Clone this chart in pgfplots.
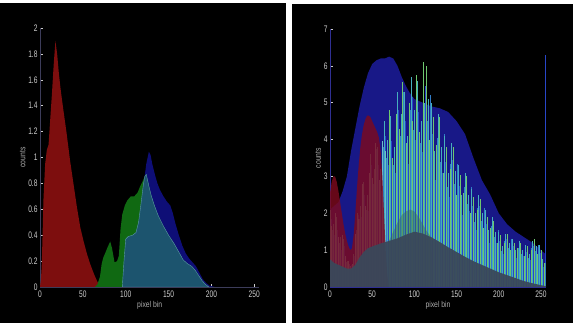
\documentclass[border=0pt]{standalone}
\usepackage{pgfplots}
\pgfplotsset{compat=1.18}
\usepackage{fontspec}
\setmainfont{Liberation Sans}
\definecolor{rd}{RGB}{125,14,14}
\definecolor{gn}{RGB}{16,105,18}
\definecolor{nv}{RGB}{14,14,118}
\definecolor{tl}{RGB}{28,84,110}
\definecolor{tledge}{RGB}{90,150,170}
\definecolor{rd2}{RGB}{125,10,30}
\definecolor{nv2}{RGB}{24,24,135}
\definecolor{cy}{RGB}{70,175,190}
\definecolor{bl}{RGB}{40,70,200}
\definecolor{bl2}{RGB}{50,125,200}
\definecolor{gl}{RGB}{110,200,110}
\definecolor{gb}{RGB}{55,105,90}
\definecolor{sl}{RGB}{58,72,90}
\definecolor{tk}{RGB}{205,205,205}
\definecolor{axl}{RGB}{60,60,90}
\begin{document}
\begin{tikzpicture}
\useasboundingbox (0pt,0pt) rectangle (573pt,323pt);
\fill[white] (0pt,0pt) rectangle (573pt,323pt);
\fill[black] (0pt,0pt) rectangle (286pt,320pt);
\fill[black] (292pt,0pt) rectangle (573pt,319pt);
\pgfplotsset{panel/.style={scale only axis, anchor=south west, xmin=0, xmax=256, ymin=0,
  axis lines*=left, tick align=inside, major tick length=3pt,
  axis line style={draw=axl, line width=0.6pt},
  every tick/.style={draw=tk, line width=0.5pt},
  xtick={0,50,100,150,200,250},
  tick label style={font=\fontsize{9.5}{10}\selectfont, text=tk, xscale=0.7},
  /pgf/number format/assume math mode=true,
  /pgf/number format/fixed, /pgf/number format/precision=1,
  label style={font=\fontsize{8.5}{9}\selectfont, text=tk!85!black, xscale=0.8},
  xlabel={pixel bin}, ylabel={counts},
  xlabel style={yshift=3pt}, ylabel style={yshift=-3pt}}}
% ---------- left panel ----------
\begin{axis}[panel, at={(40pt,36pt)}, width=219.4pt, height=259pt, ymax=2,
  ytick={0,0.2,0.4,0.6,0.8,1,1.2,1.4,1.6,1.8,2}]
\addplot[fill=rd, draw=none] coordinates {
(0,0) (1,0.05) (2,0.16) (3,0.4) (4,0.67) (6,0.95) (8,1.06) (10,1.1) (12,1.3) (14,1.5)
(16,1.72) (18,1.9) (20,1.8) (22,1.65) (24,1.53) (27,1.38) (31,1.19) (35,0.98) (39,0.8)
(43,0.62) (47,0.46) (51,0.35) (55,0.25) (59,0.17) (63,0.1) (67,0.04) (70,0.01) (72,0)} \closedcycle;
\addplot[fill=nv, draw=none] coordinates {
(96,0) (98,0.2) (100,0.37) (103,0.39) (108,0.40) (112,0.42) (115,0.5) (118,0.65) (121,0.80)
(124,0.95) (127,1.045) (129,1.02) (131,0.95) (134,0.87) (137,0.80) (140,0.75) (144,0.70)
(148,0.66) (152,0.63) (155,0.57) (158,0.49) (162,0.40) (166,0.32) (170,0.26) (174,0.22)
(178,0.19) (182,0.16) (186,0.11) (190,0.06) (194,0.03) (198,0.01) (204,0)} \closedcycle;
\addplot[fill=gn, draw=none] coordinates {
(64,0) (67,0.02) (70,0.08) (72,0.18) (74,0.23) (76,0.26) (79,0.31) (82,0.35) (84,0.3)
(87,0.19) (90,0.2) (92,0.24) (94,0.45) (96,0.56) (99,0.63) (102,0.67) (106,0.70) (110,0.70)
(114,0.73) (117,0.78) (120,0.82) (122,0.85) (124,0.87) (127,0.78) (130,0.70) (134,0.62)
(138,0.55) (144,0.47) (150,0.40) (156,0.34) (162,0.27) (167,0.21) (172,0.18) (177,0.16)
(181,0.13) (185,0.09) (189,0.05) (193,0.02) (197,0)} \closedcycle;
\addplot[fill=tl, draw=tledge, line width=0.4pt] coordinates {
(96,0) (98,0.2) (100,0.37) (103,0.39) (108,0.40) (112,0.42) (115,0.5) (118,0.65) (120,0.76)
(122,0.85) (124,0.87) (127,0.78) (130,0.70) (134,0.62) (138,0.55) (144,0.47) (150,0.40)
(156,0.34) (162,0.27) (167,0.21) (172,0.18) (177,0.16) (181,0.13) (185,0.09) (189,0.05)
(193,0.02) (197,0)} \closedcycle;
\addplot[draw=nv!80!white, line width=0.8pt] coordinates {(0,0) (256,0)};
\node[anchor=south west, font=\fontsize{9}{10}\selectfont, text=tk, xscale=0.72, inner sep=0pt]
  at (rel axis cs:0,1) [xshift=2pt, yshift=3pt] {x\,10$^{\scriptstyle 5}$};
\end{axis}
% ---------- right panel ----------
\begin{axis}[panel, at={(330pt,36pt)}, width=216pt, height=258pt, ymax=7,
  ytick={0,1,2,3,4,5,6,7}, axis line style={draw=nv2!90!white, line width=0.6pt},
  /pgf/number format/precision=0]
\addplot[fill=nv2, draw=none] coordinates {
(0,2.1) (5,2.2) (10,2.3) (15,2.6) (20,3.0) (25,3.7) (30,4.3) (35,4.9) (40,5.4) (45,5.8)
(50,6.05) (55,6.15) (60,6.2) (65,6.2) (70,6.25) (75,6.2) (80,6.0) (85,5.7) (90,5.45)
(95,5.25) (100,5.1) (110,5.0) (120,4.9) (130,4.85) (140,4.75) (150,4.5) (160,4.15)
(170,3.5) (180,2.9) (190,2.5) (200,2.0) (210,1.7) (220,1.5) (230,1.35) (240,1.2)
(250,1.0) (255,0.9) (256,0)} \closedcycle;
\addplot[ycomb, draw=bl, line width=1pt] coordinates {(255.5,6.3)};
% blue spikes
\addplot[ycomb, draw=bl, line width=0.55pt] coordinates {
(1,1.85) (5,1.4) (9,1.55) (13,1.0) (17,1.1) (21,0.52) (25,0.6) (29,0.85) (33,1.95) (37,1.9)
(41,2.5) (45,2.05) (49,3.3) (53,2.7) (57,3.3) (61,2.6) (65,4.1) (69,3.3) (73,3.95) (77,3.1)
(81,4.8) (85,3.85) (89,4.5) (93,3.35) (97,5.15) (101,4.0) (105,4.75) (109,3.65) (113,5.45)
(117,4.05) (121,4.15) (125,2.9) (129,4.2) (133,3.1) (137,3.4) (141,2.45) (145,3.45)
(149,2.55) (153,2.75) (157,1.95) (161,2.75) (165,2.05) (169,2.2) (173,1.55) (177,2.2)
(181,1.6) (185,1.7) (189,1.2) (193,1.65) (197,1.2) (201,1.25) (205,0.9) (209,1.3) (213,1.0)
(217,1.1) (221,0.8) (225,1.1) (229,0.85) (233,0.95) (237,0.72) (241,1.1) (245,0.9)
(249,0.92) (253,0.55)};
\addplot[ycomb, draw=bl2, line width=0.55pt] coordinates {
(3,1.55) (7,1.9) (11,1.2) (15,1.25) (19,0.68) (23,0.62) (27,0.68) (31,1.55) (35,1.85)
(39,2.75) (43,2.1) (47,3.0) (51,2.8) (55,3.75) (59,2.75) (63,3.8) (67,3.5) (71,4.6) (75,3.3)
(79,4.45) (83,4.1) (87,5.3) (91,3.6) (95,4.8) (99,4.25) (103,5.55) (107,3.9) (111,5.2)
(115,4.5) (119,5.2) (123,3.25) (127,4.05) (131,3.4) (135,4.15) (139,2.7) (143,3.35)
(147,2.8) (151,3.35) (155,2.2) (159,2.7) (163,2.25) (167,2.7) (171,1.75) (175,2.15)
(179,1.8) (183,2.15) (187,1.35) (191,1.65) (195,1.35) (199,1.55) (203,0.98) (207,1.25)
(211,1.05) (215,1.3) (219,0.85) (223,1.05) (227,0.9) (231,1.15) (235,0.78) (239,1.05)
(243,0.98) (247,1.15) (251,0.68) (255,0.64)};
% cyan spikes
\addplot[ycomb, draw=cy, line width=0.6pt] coordinates {
(0,2.1) (4,1.7) (8,1.9) (12,1.35) (16,1.3) (20,0.7) (24,0.57) (28,0.9) (32,2.0) (36,2.2)
(40,2.85) (44,2.5) (48,3.6) (52,3.2) (56,3.8) (60,3.2) (64,4.5) (68,4.0) (72,4.65) (76,3.8)
(80,5.3) (84,4.7) (88,5.3) (92,4.1) (96,5.7) (100,4.8) (104,5.6) (108,4.5) (112,5.0)
(116,5.1) (120,5.0) (124,3.7) (128,4.7) (132,3.8) (136,4.1) (140,3.1) (144,3.9) (148,3.15)
(152,3.3) (156,2.5) (160,3.1) (164,2.5) (168,2.65) (172,2.0) (176,2.5) (180,2.0) (184,2.1)
(188,1.55) (192,1.9) (196,1.5) (200,1.5) (204,1.1) (208,1.45) (212,1.2) (216,1.3) (220,1.0)
(224,1.25) (228,1.0) (232,1.15) (236,0.9) (240,1.25) (244,1.1) (248,1.15) (252,0.75)};
\addplot[ycomb, draw=cy!80!white, line width=0.6pt] coordinates {
(2,1.65) (6,2.0) (10,1.35) (14,1.4) (18,0.85) (22,0.7) (26,0.63) (30,1.45) (34,1.85)
(38,2.8) (42,2.2) (46,3.1) (50,2.95) (54,3.9) (58,2.9) (62,3.95) (66,3.7)};
% green spikes
\addplot[ycomb, draw=gl, line width=0.6pt] coordinates {
(70,4.8) (74,3.5) (78,4.7) (82,4.3) (86,5.55) (90,3.9) (94,5.0) (98,4.5) (102,5.75)
(106,4.2) (110,6.1) (114,6.0) (118,4.0) (122,4.6) (126,3.85) (130,4.6) (134,3.1) (138,3.8)
(142,3.2) (146,3.8) (150,2.5) (154,3.05) (158,2.55) (162,3.0) (166,2.0) (170,2.45) (174,2.1)
(178,2.4) (182,1.6) (186,1.9) (190,1.6) (194,1.8) (198,1.2) (202,1.4) (206,1.2) (210,1.45)
(214,1.0) (218,1.2) (222,1.05) (226,1.2) (230,0.85) (234,1.1) (238,1.0) (242,1.3) (246,0.9)
(250,1.0) (254,0.65)};
\addplot[fill=rd2, fill opacity=0.82, draw=none] coordinates {
(0,2.55) (2,2.85) (4,3.0) (6,3.0) (8,2.85) (10,2.6) (12,2.3) (14,2.0) (16,1.7) (18,1.45)
(20,1.25) (22,1.1) (24,1.0) (26,1.05) (28,1.4) (30,2.0) (32,2.7) (34,3.3) (36,3.8)
(38,4.15) (40,4.4) (42,4.55) (44,4.65) (46,4.65) (48,4.6) (50,4.5) (52,4.4) (54,4.3)
(56,4.2) (58,4.05) (60,3.7) (62,3.0) (64,2.0) (66,1.0) (68,0.3) (70,0)} \closedcycle;
\addplot[fill=gb, fill opacity=0.45, draw=none] coordinates {
(68,0) (70,1.25) (75,1.5) (80,1.75) (85,1.95) (90,2.05) (95,2.1) (100,2.05) (105,1.9)
(110,1.7) (115,1.5) (120,1.35) (122,0)} \closedcycle;
\addplot[fill=sl, fill opacity=0.95, draw=none] coordinates {
(0,0.75) (5,0.65) (10,0.6) (15,0.55) (20,0.5) (25,0.5) (30,0.6) (35,0.8) (40,0.95)
(45,1.05) (50,1.1) (60,1.18) (70,1.25) (80,1.32) (90,1.42) (100,1.5) (110,1.45) (120,1.35)
(130,1.22) (140,1.08) (150,0.95) (160,0.82) (170,0.7) (180,0.6) (190,0.5) (200,0.4)
(210,0.32) (220,0.24) (230,0.16) (240,0.1) (250,0.05) (256,0.02)} \closedcycle;
\addplot[draw=gb!70!white, line width=0.6pt] coordinates {(0,0) (256,0)};
\node[anchor=south west, font=\fontsize{9}{10}\selectfont, text=tk, xscale=0.72, inner sep=0pt]
  at (rel axis cs:0,1) [xshift=1pt, yshift=3pt] {x\,10$^{\scriptstyle 4}$};
\end{axis}
\end{tikzpicture}
\end{document}
